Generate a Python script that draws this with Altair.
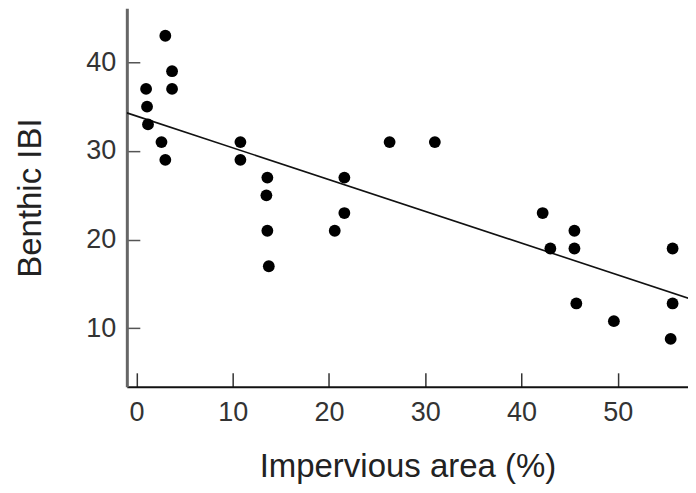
import altair as alt
import pandas as pd

# Data
imperv = [3.0, 1.0, 1.1, 1.2, 2.6, 3.0, 3.7, 3.7, 10.8, 10.8, 13.6, 13.5, 13.6, 13.75,
          20.6, 21.6, 21.6, 26.3, 31.0, 42.2, 45.5, 43.0, 45.5, 45.7, 49.6, 55.7, 55.7, 55.5]
ibi = [43, 37, 35, 33, 31, 29, 39, 37, 31, 29, 27, 25, 21, 17,
       21, 27, 23, 31, 31, 23, 21, 19, 19, 12.8, 10.8, 19, 12.8, 8.8]

fit_x = [-1.0, 57.6]
fit_y = [34.3, 13.3]

x_ticks = [0, 10, 20, 30, 40, 50]
y_ticks = [10, 20, 30, 40]

pts = pd.DataFrame({"x": imperv, "y": ibi})
fit = pd.DataFrame({"x": fit_x, "y": fit_y})

FONT = "Liberation Sans"

xscale = alt.Scale(domain=[-1, 57.3], nice=False, zero=False)
yscale = alt.Scale(domain=[3.4, 46.09], nice=False, zero=False)

xaxis = alt.Axis(
    title="Impervious area (%)", values=x_ticks, grid=False,
    tickSize={"expr": "-14"}, tickColor="#333", tickWidth=1.5,
    domainColor="#111", domainWidth=2,
    labelFont=FONT, labelFontSize=27, labelColor="#333", labelPadding=27,
    titleFont=FONT, titleFontSize=33, titleFontWeight="normal", titleColor="#222",
    titlePadding=25,
)
yaxis = alt.Axis(
    title="Benthic IBI", values=y_ticks, grid=False,
    tickSize={"expr": "-13"}, tickColor="#555", tickWidth=1.5,
    domainColor="#666", domainWidth=3,
    labelFont=FONT, labelFontSize=27, labelColor="#333", labelPadding=24,
    titleFont=FONT, titleFontSize=33, titleFontWeight="normal", titleColor="#222",
    titlePadding=38,
)

points = alt.Chart(pts).mark_circle(size=140, color="black", opacity=1).encode(
    x=alt.X("x:Q", scale=xscale, axis=xaxis),
    y=alt.Y("y:Q", scale=yscale, axis=yaxis),
)
line = alt.Chart(fit).mark_line(color="#111", strokeWidth=1.6, clip=True).encode(
    x=alt.X("x:Q", scale=xscale),
    y=alt.Y("y:Q", scale=yscale),
)

chart = (
    alt.layer(line, points)
    .properties(width=562, height=379,
                padding={"left": 6, "top": 0, "right": 0, "bottom": 0})
    .configure_view(stroke=None)
)

chart.save("out.html", embed_options={"renderer": "svg", "actions": False})
